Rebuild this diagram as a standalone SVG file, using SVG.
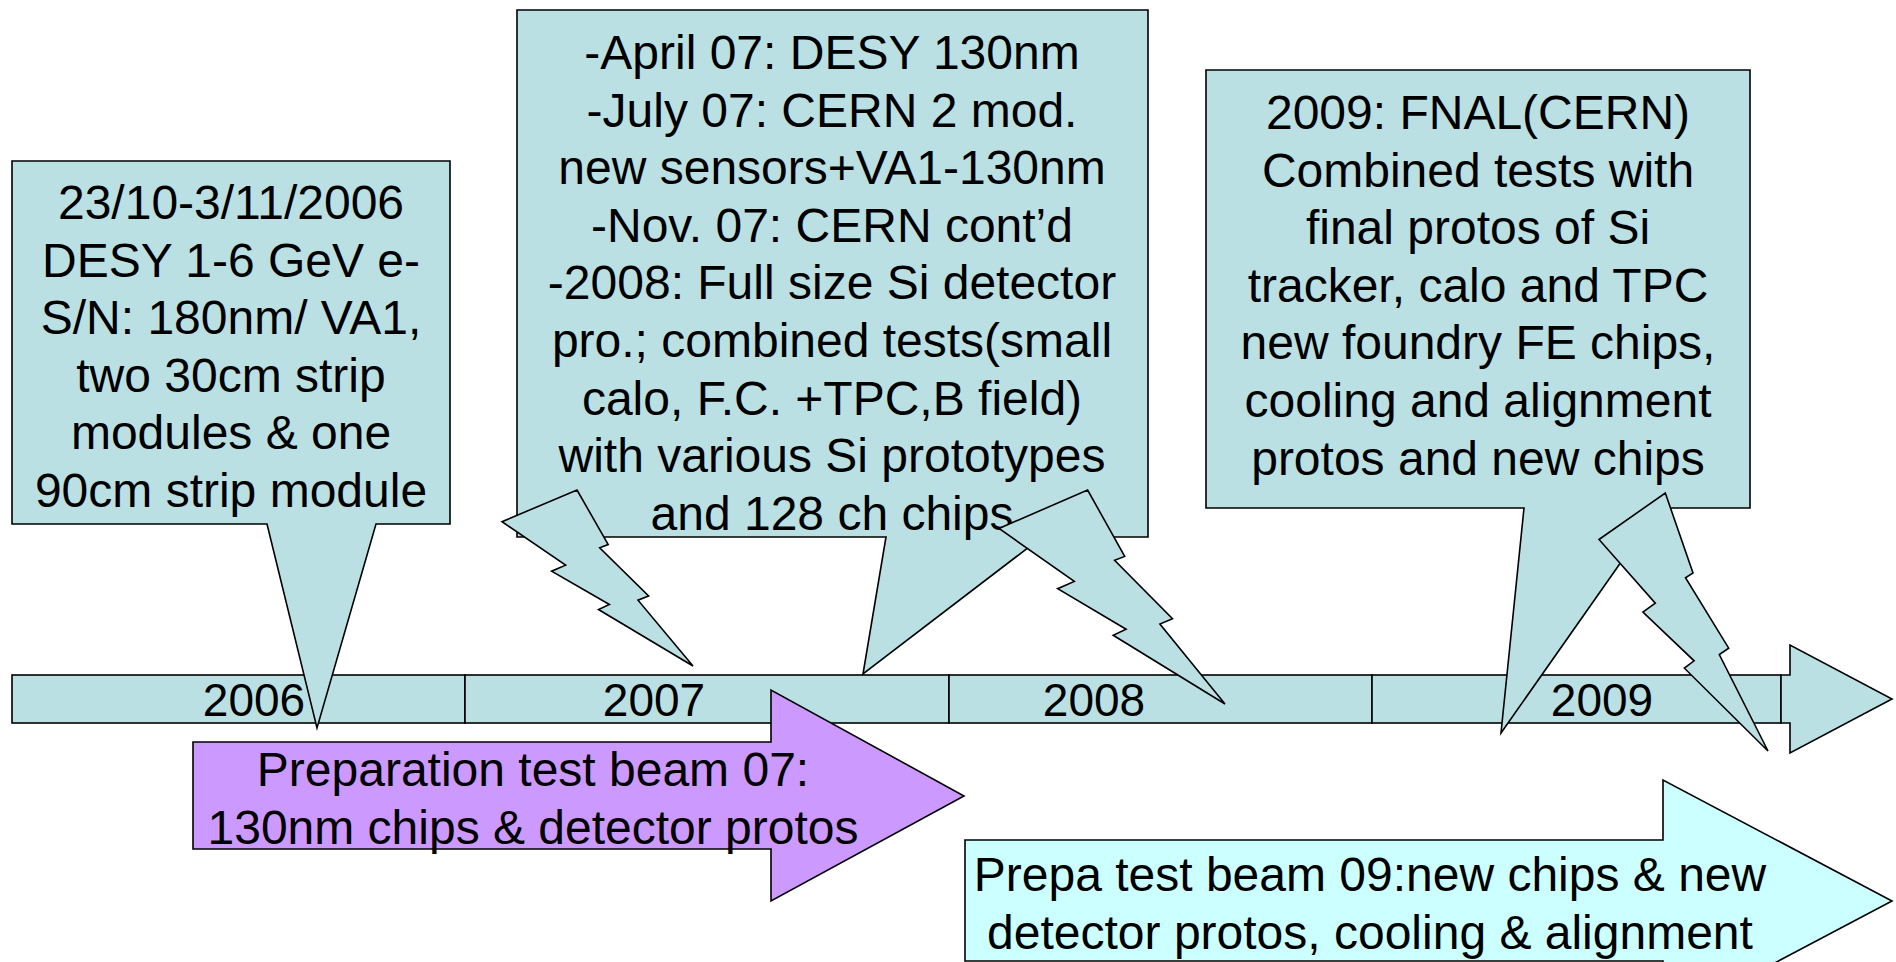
<svg xmlns="http://www.w3.org/2000/svg" width="1896" height="962" viewBox="0 0 1896 962">
<style>
.s{stroke:#000;stroke-width:1.6;stroke-linejoin:miter}
.b{fill:#BBE0E3}
.p{fill:#CC99FF}
.c{fill:#CCFFFF}
text{font-family:"Liberation Sans",Arial,sans-serif;font-size:48px;fill:#000;text-anchor:middle}
.y{font-size:46px}
</style>
<rect width="1896" height="962" fill="#fff"/>
<g id="timeline">
<rect class="s b" x="12" y="675" width="453" height="48"/>
<rect class="s b" x="465" y="675" width="484" height="48"/>
<rect class="s b" x="949" y="675" width="423" height="48"/>
<rect class="s b" x="1372" y="675" width="409" height="48"/>
<path class="s b" d="M1781,675 H1790 V645 L1892,699 L1790,753 V723 H1781 Z"/>
<text class="y" x="254" y="716">2006</text>
<text class="y" x="654" y="716">2007</text>
<text class="y" x="1094" y="716">2008</text>
<text class="y" x="1602" y="716">2009</text>
</g>
<g id="prep07">
<path class="s p" d="M193,742 H771 V690 L964,796 L771,901 V849 H193 Z"/>
<text x="533" y="786">Preparation test beam 07:</text>
<text x="533" y="844">130nm chips &amp; detector protos</text>
</g>
<g id="prep09">
<path class="s c" d="M965,840 H1663 V780 L1892,901 L1663,1022 V961 H965 Z"/>
<text x="1370" y="891">Prepa test beam 09:new chips &amp; new</text>
<text x="1370" y="949">detector protos, cooling &amp; alignment</text>
</g>
<g id="callout2006">
<path class="s b" d="M12,161 H450 V524 H376 L317,728 L267,524 H12 Z"/>
<text x="231" y="219">23/10-3/11/2006</text>
<text x="231" y="277">DESY 1-6 GeV e-</text>
<text x="231" y="334">S/N: 180nm/ VA1,</text>
<text x="231" y="392">two 30cm strip</text>
<text x="231" y="449">modules &amp; one</text>
<text x="231" y="507">90cm strip module</text>
</g>
<g id="callout2007">
<path class="s b" d="M517,10 H1148 V537 H1042 L863,674 L886,537 H517 Z"/>
<text x="832" y="69">-April 07: DESY 130nm</text>
<text x="832" y="127">-July 07: CERN 2 mod.</text>
<text x="832" y="184">new sensors+VA1-130nm</text>
<text x="832" y="242">-Nov. 07: CERN cont’d</text>
<text x="832" y="299">-2008: Full size Si detector</text>
<text x="832" y="357">pro.; combined tests(small</text>
<text x="832" y="415">calo, F.C. +TPC,B field)</text>
<text x="832" y="472">with various Si prototypes</text>
<text x="832" y="530">and 128 ch chips</text>
</g>
<g id="callout2009">
<path class="s b" d="M1206,70 H1750 V508 H1659 L1501,733 L1524,508 H1206 Z"/>
<text x="1478" y="129">2009: FNAL(CERN)</text>
<text x="1478" y="187">Combined tests with</text>
<text x="1478" y="244">final protos of Si</text>
<text x="1478" y="302">tracker, calo and TPC</text>
<text x="1478" y="359">new foundry FE chips,</text>
<text x="1478" y="417">cooling and alignment</text>
<text x="1478" y="475">protos and new chips</text>
</g>
<g id="bolt1">
<path class="s b" d="M577,490 L608.2,544.6 L599.7,547.8 L648.6,595.9 L638,600.2 L693,666 L598.5,609.5 L609.4,604.5 L551.6,571.2 L565.6,565.2 L502,521.7 Z"/>
</g>
<g id="bolt2">
<path class="s b" d="M1087.6,490 L1124.7,556.4 L1114.6,560.2 L1172.5,618.7 L1159.9,624 L1225,704 L1113.2,635.3 L1126.1,629.2 L1057.7,588.7 L1074.3,581.4 L999,528.5 Z"/>
</g>
<g id="bolt3">
<path class="s b" d="M1665.3,493 L1693,573 L1685.5,577.7 L1728.7,648.2 L1719.3,654.6 L1768,751 L1684.4,668.2 L1694.1,660.8 L1642.9,612 L1655.3,603.2 L1599,539.5 Z"/>
</g>
<g id="connectors"></g>
</svg>
